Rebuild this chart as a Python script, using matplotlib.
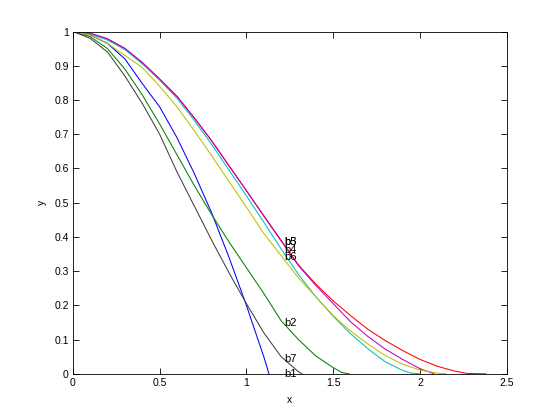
import numpy as np
import matplotlib
matplotlib.use("Agg")
import matplotlib.pyplot as plt

plt.rcParams['font.family'] = ['Liberation Sans', 'DejaVu Sans']

# values
x_b1 = [0, 0.1, 0.2, 0.3, 0.4, 0.5, 0.6, 0.7, 0.8, 0.9, 1.0, 1.1, 1.13]
y_b1 = [1, 0.99, 0.965, 0.92, 0.848, 0.78, 0.69, 0.585, 0.47, 0.34, 0.2, 0.05, 0]

x_b2 = [0, 0.1, 0.2, 0.3, 0.4, 0.5, 0.6, 0.7, 0.8, 0.9, 1.0, 1.1, 1.2, 1.3, 1.4, 1.5, 1.55, 1.59]
y_b2 = [1, 0.985, 0.95, 0.89, 0.815, 0.73, 0.64, 0.55, 0.465, 0.385, 0.31, 0.235, 0.155,
        0.1, 0.052, 0.018, 0.004, 0]

x_b3 = [0, 0.1, 0.2, 0.3, 0.4, 0.5, 0.6, 0.7, 0.8, 0.9, 1.0, 1.1, 1.2, 1.3, 1.4, 1.5,
        1.6, 1.7, 1.8, 1.9, 2.0, 2.1, 2.2, 2.27, 2.38]
y_b3 = [1, 0.994, 0.978, 0.95, 0.908, 0.86, 0.81, 0.747, 0.68, 0.607, 0.535, 0.462, 0.39,
        0.318, 0.262, 0.213, 0.17, 0.13, 0.097, 0.068, 0.042, 0.022, 0.008, 0.001, 0]

x_b4 = [0, 0.1, 0.2, 0.3, 0.4, 0.5, 0.6, 0.7, 0.8, 0.9, 1.0, 1.1, 1.2, 1.3, 1.4, 1.5,
        1.6, 1.7, 1.8, 1.9, 1.95, 2.0]
y_b4 = [1, 0.993, 0.975, 0.947, 0.906, 0.858, 0.805, 0.74, 0.67, 0.595, 0.52, 0.443, 0.365,
        0.29, 0.225, 0.168, 0.117, 0.073, 0.035, 0.01, 0.002, 0]

x_b5 = [0, 0.1, 0.2, 0.3, 0.4, 0.5, 0.6, 0.7, 0.8, 0.9, 1.0, 1.1, 1.2, 1.3, 1.4, 1.5,
        1.6, 1.7, 1.8, 1.9, 2.0, 2.08]
y_b5 = [1, 0.995, 0.979, 0.951, 0.91, 0.862, 0.811, 0.748, 0.681, 0.608, 0.535, 0.461, 0.388,
        0.316, 0.258, 0.205, 0.152, 0.109, 0.072, 0.042, 0.015, 0]

x_b6 = [0, 0.1, 0.2, 0.3, 0.4, 0.5, 0.6, 0.7, 0.8, 0.9, 1.0, 1.1, 1.2, 1.3, 1.4, 1.5,
        1.6, 1.7, 1.8, 1.9, 2.0, 2.1, 2.15]
y_b6 = [1, 0.99, 0.965, 0.93, 0.895, 0.84, 0.78, 0.71, 0.637, 0.562, 0.487, 0.41, 0.345,
        0.28, 0.225, 0.17, 0.125, 0.087, 0.053, 0.028, 0.011, 0.002, 0]

x_b7 = [0, 0.1, 0.2, 0.3, 0.4, 0.5, 0.6, 0.7, 0.8, 0.9, 1.0, 1.1, 1.2, 1.3, 1.32]
y_b7 = [1, 0.98, 0.94, 0.87, 0.79, 0.7, 0.59, 0.49, 0.39, 0.295, 0.205, 0.12, 0.05, 0.006, 0]

names = ['b1', 'b2', 'b3', 'b4', 'b5', 'b6', 'b7']
label_x = 1.22
label_y = [0.0, 0.149, 0.386, 0.363, 0.386, 0.342, 0.044]

# matlab default colour order
colors = [(0, 0, 1), (0, 0.5, 0), (1, 0, 0), (0, 0.75, 0.75),
          (0.75, 0, 0.75), (0.75, 0.75, 0), (0.25, 0.25, 0.25)]

series = [(x_b1, y_b1), (x_b2, y_b2), (x_b3, y_b3), (x_b4, y_b4),
          (x_b5, y_b5), (x_b6, y_b6), (x_b7, y_b7)]

fig = plt.figure(figsize=(5.6, 4.2), dpi=100)
ax = fig.add_axes([0.13, 0.11, 0.775, 0.815])

for (xs, ys), c in zip(series, colors):
    ax.plot(xs, ys, color=c, linewidth=0.75)

for name, ly in zip(names, label_y):
    ax.text(label_x, ly, name, fontsize=8, va='center', ha='left')

ax.set_xlim(0, 2.5)
ax.set_ylim(0, 1)
ax.set_xticks(np.arange(0, 2.51, 0.5))
ax.set_xticklabels(['0', '0.5', '1', '1.5', '2', '2.5'])
ax.set_yticks(np.arange(0, 1.01, 0.1))
ax.set_yticklabels(['0', '0.1', '0.2', '0.3', '0.4', '0.5', '0.6', '0.7', '0.8', '0.9', '1'])
ax.tick_params(direction='in', top=True, right=True, labelsize=7.5, length=4, width=0.6, pad=3)
for sp in ax.spines.values():
    sp.set_linewidth(0.6)
ax.set_xlabel('x', fontsize=7.5, labelpad=5)
ax.set_ylabel('y', fontsize=7.5, labelpad=5)

fig.savefig('out.png', dpi=100)
